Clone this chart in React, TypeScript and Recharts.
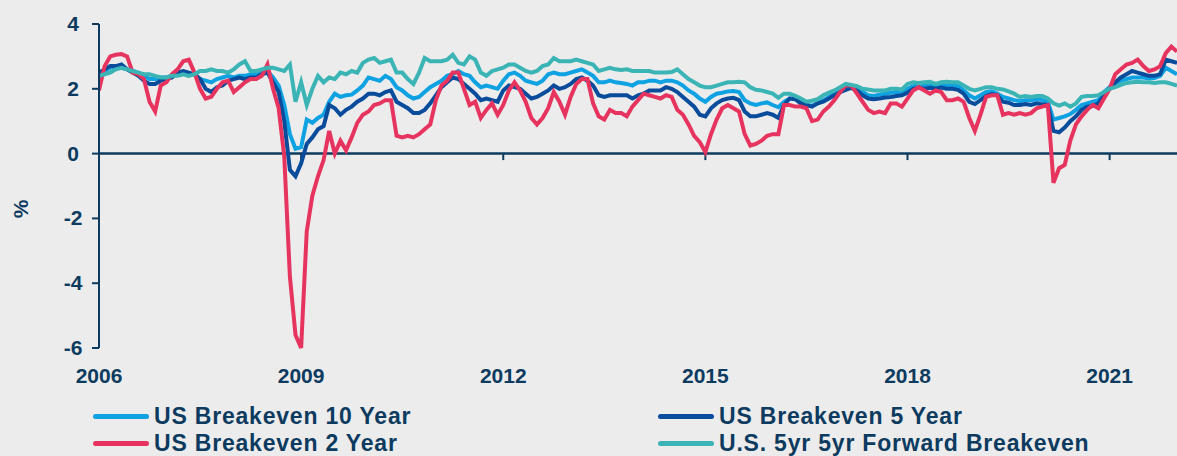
import { LineChart, Line, XAxis, YAxis, ReferenceLine } from "recharts";

const NAVY = "#0d3b5f";
const FONT = "'Liberation Sans', Arial, sans-serif";

const COLORS = {
  be10: "#0ea2e2",
  be5: "#0a4c9c",
  be2: "#e6345f",
  fwd: "#3bb4b5",
};

// monthly, Jan 2006 .. Jan 2022
const START_YEAR = 2006;
const months = Array.from({ length: 193 }, (_, i) => START_YEAR + i / 12);

const xTicks = [2006, 2009, 2012, 2015, 2018, 2021];
const yTicks = [-6, -4, -2, 0, 2, 4];

const be10 = [
  2.45, 2.55, 2.65, 2.7, 2.65, 2.6, 2.55, 2.5, 2.4, 2.3, 2.3, 2.35,
  2.35, 2.4, 2.45, 2.5, 2.45, 2.45, 2.3, 2.25, 2.2, 2.3, 2.35, 2.4,
  2.35, 2.4, 2.4, 2.45, 2.45, 2.5, 2.55, 2.35, 2.1, 1.5, 0.6, 0.15,
  0.2, 1.05, 0.95, 1.1, 1.2, 1.6, 1.85, 1.75, 1.8, 1.82, 1.95, 2.1,
  2.35, 2.3, 2.25, 2.4, 2.3, 2.05, 1.95, 1.8, 1.7, 1.75, 1.9, 2.05,
  2.15, 2.25, 2.4, 2.45, 2.55, 2.45, 2.4, 2.2, 2.05, 2.1, 2.05, 2.0,
  2.25, 2.45, 2.5, 2.4, 2.25, 2.2, 2.15, 2.25, 2.45, 2.5, 2.45, 2.45,
  2.5, 2.55, 2.6, 2.5, 2.4, 2.2, 2.2, 2.25, 2.2, 2.18, 2.15, 2.1,
  2.2, 2.2, 2.25, 2.25, 2.2, 2.25, 2.25, 2.2, 2.1, 1.95, 1.85, 1.7,
  1.6, 1.75, 1.85, 1.88, 1.92, 1.93, 1.9, 1.65, 1.55, 1.5, 1.55, 1.58,
  1.5, 1.43, 1.6, 1.7, 1.7, 1.6, 1.5, 1.48, 1.55, 1.65, 1.75, 1.88,
  1.99, 2.03, 2.08, 2.0, 1.9, 1.8, 1.78, 1.82, 1.85, 1.88, 1.9, 1.9,
  2.0, 2.08, 2.1, 2.1, 2.12, 2.1, 2.14, 2.1, 2.1, 2.08, 1.95, 1.8,
  1.7, 1.8, 1.9, 1.92, 1.85, 1.75, 1.7, 1.65, 1.62, 1.65, 1.65, 1.68,
  1.65, 1.6, 1.05, 1.1, 1.15, 1.22, 1.35, 1.5, 1.55, 1.6, 1.65, 1.9,
  2.05, 2.15, 2.25, 2.3, 2.35, 2.35, 2.35, 2.32, 2.33, 2.4, 2.65, 2.55,
  2.45,
];

const be5 = [
  2.5, 2.6, 2.7, 2.7, 2.75, 2.6, 2.5, 2.4, 2.25, 2.15, 2.15, 2.25,
  2.3, 2.35, 2.5, 2.55, 2.5, 2.45, 2.3, 2.0, 1.9, 2.05, 2.1, 2.25,
  2.3, 2.35, 2.3, 2.35, 2.35, 2.45, 2.5, 2.2, 1.9, 1.0, -0.5, -0.7,
  -0.3, 0.3, 0.5, 0.75, 0.85, 1.5, 1.4, 1.2, 1.35, 1.45, 1.6, 1.7,
  1.85, 1.85, 1.8, 1.9, 1.95, 1.6, 1.5, 1.4, 1.25, 1.25, 1.35, 1.55,
  1.8, 2.05, 2.2, 2.35, 2.3, 2.15, 2.0, 1.85, 1.65, 1.7, 1.65, 1.6,
  1.95, 2.1, 2.05, 2.0, 1.85, 1.7, 1.75, 1.85, 1.95, 2.1, 2.0, 2.05,
  2.15, 2.3, 2.35, 2.25, 2.1, 1.8, 1.75, 1.8, 1.8, 1.8, 1.8, 1.7,
  1.8, 1.85, 1.95, 1.95, 1.95, 2.05, 2.0, 1.9, 1.75, 1.6, 1.45, 1.2,
  1.15, 1.4, 1.55, 1.65, 1.7, 1.72, 1.65, 1.3, 1.15, 1.15, 1.2, 1.25,
  1.2, 1.1, 1.5, 1.7, 1.68, 1.55, 1.5, 1.45, 1.55, 1.6, 1.7, 1.8,
  1.9, 1.97, 2.03, 1.95, 1.8, 1.7, 1.68, 1.7, 1.73, 1.75, 1.78, 1.8,
  1.88, 2.0, 2.03, 2.0, 2.03, 2.0, 2.04, 2.0, 2.0, 1.97, 1.85, 1.6,
  1.53, 1.65, 1.78, 1.84, 1.8, 1.6, 1.57, 1.5, 1.5, 1.53, 1.5, 1.55,
  1.52, 1.5, 0.7, 0.66, 0.8, 1.0, 1.15, 1.35, 1.45, 1.47, 1.55, 1.8,
  2.0, 2.2, 2.35, 2.45, 2.55, 2.5, 2.45, 2.4, 2.4, 2.45, 2.9, 2.85,
  2.8,
];

const be2 = [
  1.95, 2.7, 3.0, 3.05, 3.07, 3.0, 2.5, 2.45, 2.3, 1.6, 1.3, 2.1,
  2.2, 2.45, 2.6, 2.85, 2.9, 2.5, 2.0, 1.7, 1.75, 2.0, 2.2, 2.25,
  1.9, 2.05, 2.2, 2.3, 2.3, 2.4, 2.75, 2.0, 1.4, -0.1, -3.8, -5.6,
  -6.0, -2.4, -1.3, -0.7, -0.2, 0.7, 0.0, 0.4, 0.1, 0.5, 0.95, 1.2,
  1.3, 1.5, 1.55, 1.65, 1.65, 0.55, 0.5, 0.55, 0.5, 0.6, 0.75, 0.9,
  1.65, 2.1, 2.25, 2.5, 2.5, 2.0, 1.5, 1.6, 1.1, 1.35, 1.55, 1.2,
  1.5, 1.95, 2.2, 1.95, 1.6, 1.1, 0.9, 1.1, 1.4, 1.9, 1.6, 1.2,
  1.75, 2.15, 2.3, 2.3, 1.55, 1.15, 1.05, 1.35, 1.25, 1.25, 1.15, 1.45,
  1.65, 1.85, 1.8, 1.75, 1.7, 1.8, 1.75, 1.35, 1.2, 0.9, 0.55, 0.35,
  0.05, 0.6, 1.05, 1.4, 1.5, 1.4, 1.3, 0.6, 0.25, 0.3, 0.4, 0.55,
  0.6, 0.6, 1.5, 1.5, 1.45, 1.45, 1.4, 1.0, 1.05, 1.3, 1.45, 1.65,
  1.9, 2.1, 2.1, 1.85, 1.6, 1.35, 1.25, 1.3, 1.25, 1.55, 1.55, 1.45,
  1.7, 1.95, 2.05, 1.95, 1.85, 1.95, 1.9, 1.65, 1.65, 1.7, 1.6, 1.1,
  0.7, 1.2, 1.75, 1.8, 1.8, 1.2, 1.25, 1.2, 1.25, 1.2, 1.25, 1.4,
  1.45, 1.5, -0.9, -0.45, -0.35, 0.4, 0.9, 1.15, 1.35, 1.5, 1.4, 1.7,
  2.0, 2.45, 2.6, 2.75, 2.8, 2.9, 2.7, 2.55, 2.6, 2.7, 3.1, 3.3,
  3.15,
];

const fwd = [
  2.4, 2.45, 2.5, 2.6, 2.65, 2.6, 2.55, 2.5, 2.45, 2.45, 2.4, 2.35,
  2.35, 2.4, 2.4, 2.45, 2.4, 2.45, 2.55, 2.55, 2.6, 2.55, 2.55, 2.5,
  2.6, 2.75, 2.85, 2.55, 2.55, 2.6, 2.65, 2.65, 2.6, 2.55, 2.75, 1.6,
  2.2, 1.5, 2.0, 2.4, 2.2, 2.35, 2.3, 2.5, 2.45, 2.55, 2.5, 2.8,
  2.9, 2.95, 2.8, 2.85, 2.9, 2.5, 2.5, 2.3, 2.15, 2.5, 2.95, 2.85,
  2.85, 2.85, 2.9, 3.05, 2.8, 2.75, 3.0, 2.9, 2.5, 2.4, 2.55, 2.6,
  2.65, 2.75, 2.75, 2.65, 2.55, 2.5, 2.55, 2.7, 2.75, 2.95, 2.85, 2.85,
  2.85, 2.9, 2.85, 2.8, 2.75, 2.55, 2.6, 2.65, 2.6, 2.58, 2.6, 2.55,
  2.55, 2.55, 2.55, 2.5, 2.5, 2.5, 2.52, 2.6, 2.45, 2.3, 2.2, 2.1,
  2.05, 2.05, 2.1, 2.15, 2.2, 2.2, 2.22, 2.2, 2.05, 1.97, 1.95, 1.9,
  1.85, 1.72, 1.85, 1.85, 1.78, 1.7, 1.6, 1.63, 1.68, 1.8, 1.88, 1.95,
  2.05, 2.15, 2.12, 2.08, 2.0, 1.98, 1.95, 1.95, 1.95, 2.0, 2.0, 1.98,
  2.15, 2.2, 2.18, 2.2, 2.22, 2.15, 2.2, 2.22, 2.2, 2.2, 2.1, 2.0,
  1.95, 2.0, 2.05, 2.05, 2.0, 1.98, 1.92, 1.85, 1.75, 1.78, 1.75, 1.78,
  1.78, 1.7, 1.55, 1.48, 1.55, 1.45, 1.55, 1.75, 1.78, 1.78, 1.8, 1.9,
  2.0, 2.05, 2.12, 2.18, 2.2, 2.22, 2.2, 2.2, 2.18, 2.2, 2.2, 2.15,
  2.1,
];

const legendItems = [
  { key: "be10", name: "US Breakeven 10 Year" },
  { key: "be5", name: "US Breakeven 5 Year" },
  { key: "be2", name: "US Breakeven 2 Year" },
  { key: "fwd", name: "U.S. 5yr 5yr Forward Breakeven" },
];

const data = months.map((t, i) => ({
  t,
  be10: be10[i],
  be5: be5[i],
  be2: be2[i],
  fwd: fwd[i],
}));

const YTick = ({ x, y, payload }: any) => (
  <text
    x={x - 17}
    y={y}
    dy={7}
    textAnchor="middle"
    fill={NAVY}
    fontSize={21}
    fontWeight={700}
    fontFamily={FONT}
  >
    {payload.value}
  </text>
);

const Legend2 = () => (
  <div style={{ position: "absolute", left: 0, top: 0, width: 1177 }}>
    {legendItems.map((item, i) => {
      const col = i % 2;
      const row = Math.floor(i / 2);
      return (
        <div
          key={item.key}
          style={{
            position: "absolute",
            left: col === 0 ? 93 : 658,
            top: 403 + row * 27,
            height: 26,
            display: "flex",
            alignItems: "center",
            whiteSpace: "nowrap",
          }}
        >
          <span
            style={{
              display: "inline-block",
              width: 56,
              height: 5,
              borderRadius: 3,
              background: COLORS[item.key as keyof typeof COLORS],
              marginRight: 5,
            }}
          />
          <span
            style={{
              fontFamily: FONT,
              fontWeight: 700,
              fontSize: 23,
              letterSpacing: 0.8,
              lineHeight: "26px",
              color: NAVY,
            }}
          >
            {item.name}
          </span>
        </div>
      );
    })}
  </div>
);

export default function App() {
  return (
    <div
      style={{
        position: "absolute",
        left: 0,
        top: 0,
        width: 1177,
        height: 456,
        background: "#ececec",
        overflow: "hidden",
      }}
    >
      <LineChart
        width={1177}
        height={400}
        data={data}
        margin={{ top: 24, right: 0, left: 0, bottom: 22 }}
      >
        <XAxis
          dataKey="t"
          type="number"
          domain={[2006, 2022]}
          ticks={xTicks}
          allowDataOverflow
          axisLine={false}
          tickLine={false}
          tickSize={0}
          tickMargin={20}
          height={30}
          tick={{ fill: NAVY, fontSize: 21, fontWeight: 700, fontFamily: FONT }}
        />
        <YAxis
          domain={[-6, 4]}
          ticks={yTicks}
          width={99}
          axisLine={{ stroke: NAVY, strokeWidth: 2 }}
          tickLine={{ stroke: NAVY, strokeWidth: 2 }}
          tickSize={7}
          tick={<YTick />}
          label={{
            content: () => (
              <text
                transform="translate(21,209) rotate(-90)"
                textAnchor="middle"
                dy={7}
                fill={NAVY}
                fontSize={21}
                fontWeight={700}
                fontFamily={FONT}
              >
                %
              </text>
            ),
          }}
        />
        <ReferenceLine y={0} stroke={NAVY} strokeWidth={2.5} />
        {xTicks.slice(1).map((t) => (
          <ReferenceLine
            key={t}
            segment={[
              { x: t, y: 0 },
              { x: t, y: -0.2 },
            ]}
            stroke={NAVY}
            strokeWidth={2}
          />
        ))}
        <Line
          dataKey="be10"
          stroke={COLORS.be10}
          strokeWidth={4}
          dot={false}
          isAnimationActive={false}
        />
        <Line
          dataKey="be5"
          stroke={COLORS.be5}
          strokeWidth={4}
          dot={false}
          isAnimationActive={false}
        />
        <Line
          dataKey="be2"
          stroke={COLORS.be2}
          strokeWidth={4}
          dot={false}
          isAnimationActive={false}
        />
        <Line
          dataKey="fwd"
          stroke={COLORS.fwd}
          strokeWidth={4}
          dot={false}
          isAnimationActive={false}
        />
      </LineChart>
      <Legend2 />
    </div>
  );
}
